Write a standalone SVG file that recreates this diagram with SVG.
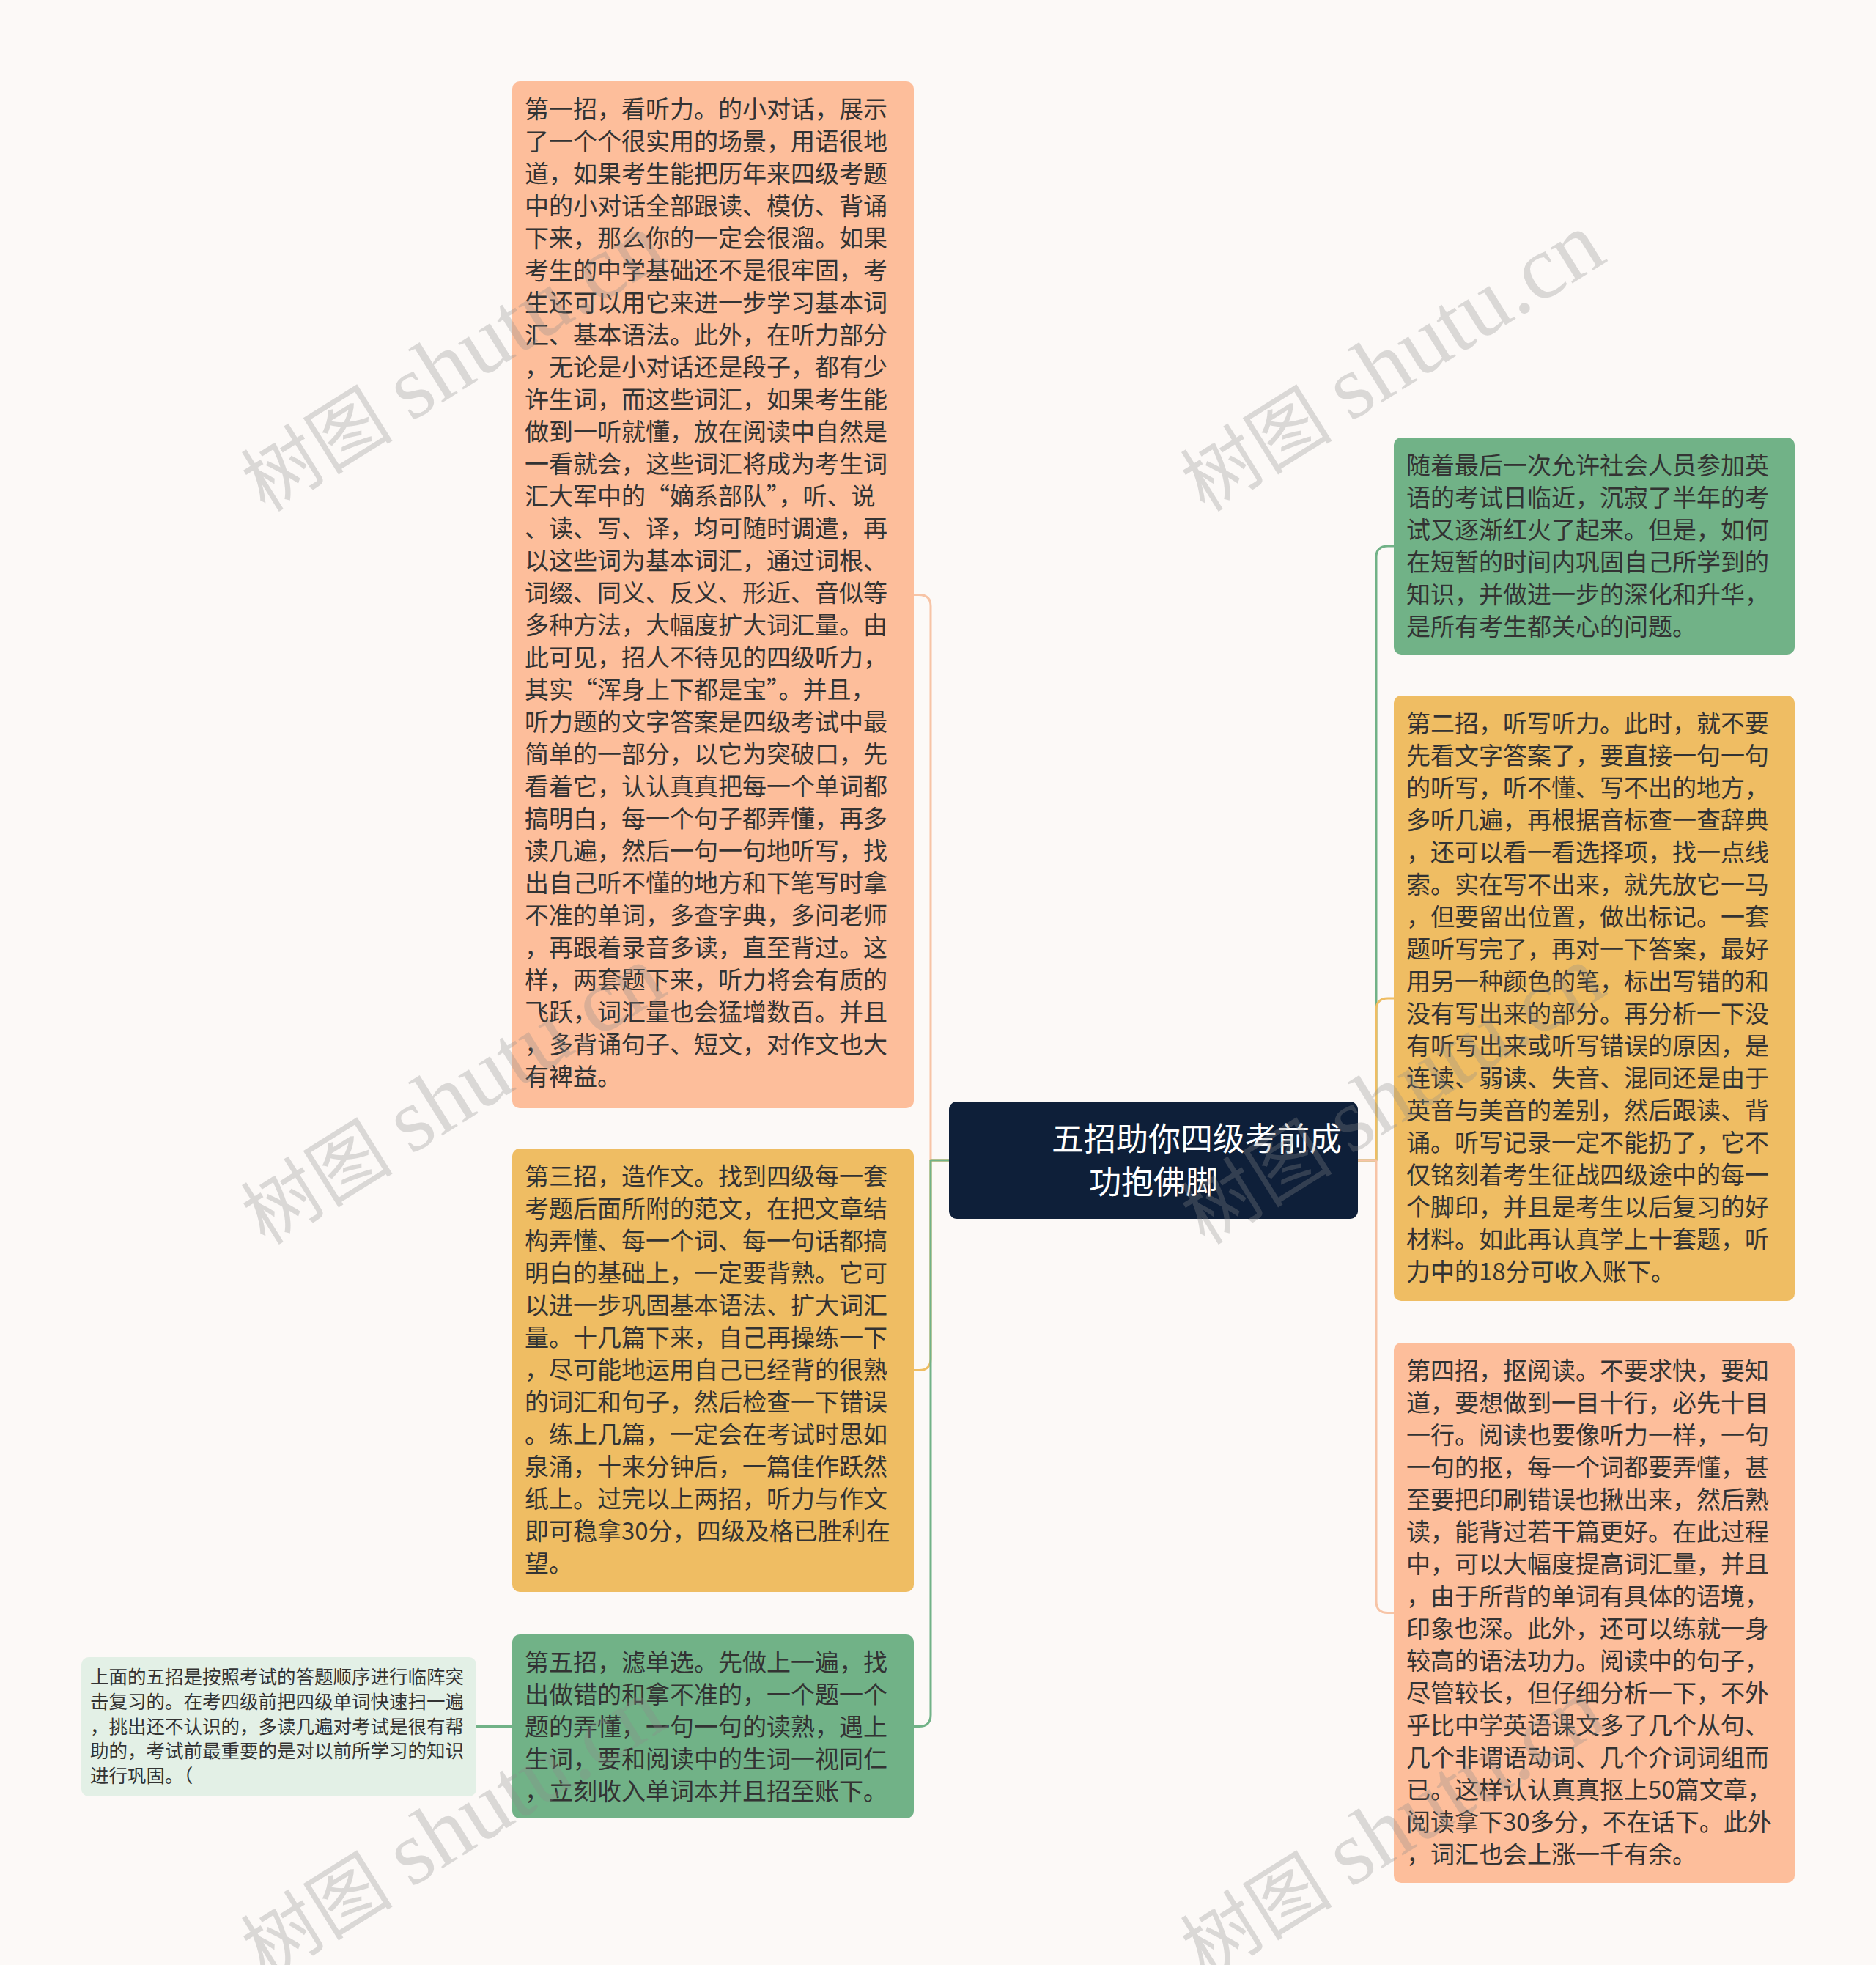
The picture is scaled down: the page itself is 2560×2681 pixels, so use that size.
<svg xmlns="http://www.w3.org/2000/svg" width="2560" height="2681" viewBox="0 0 2560 2681">
<style>
.t{font-family:"Noto Sans CJK SC","Noto Sans",sans-serif;font-size:33px;fill:#333333}
.s{font-family:"Noto Sans CJK SC","Noto Sans",sans-serif;font-size:25.5px;fill:#333333}
.c{font-family:"Noto Sans CJK SC","Noto Sans",sans-serif;font-size:44px;fill:#ffffff}
.ln{fill:none;stroke-width:3;stroke-linecap:round;stroke-linejoin:round}
.wm{font-family:"Liberation Serif","Noto Sans CJK SC",serif;font-size:104px;fill:#8a8a8a;fill-opacity:0.3}
.wl{font-size:124px}
.peach{fill:#FDBE9B}.yellow{fill:#EFBD63}.green{fill:#71B287}
</style>
<rect width="2560" height="2681" fill="#FCF9F7"/>
<g id="connectors">
<path class="ln" stroke="#F7C4A6" d="M1295 1583H1270V827Q1270 811.5 1254 811.5H1247"/>
<path class="ln" stroke="#EFBD63" d="M1295 1583H1270V1854Q1270 1869.5 1254 1869.5H1247"/>
<path class="ln" stroke="#71B287" d="M1295 1583H1270V2340Q1270 2355.5 1254 2355.5H1247"/>
<path class="ln" stroke="#71B287" d="M699 2355.5H650"/>
<path class="ln" stroke="#71B287" d="M1853 1583H1878V760Q1878 745 1894 745H1902"/>
<path class="ln" stroke="#EFBD63" d="M1853 1583H1878V1378Q1878 1362 1894 1362H1902"/>
<path class="ln" stroke="#F7C4A6" d="M1853 1583H1878V2185Q1878 2200.5 1894 2200.5H1902"/>
</g>
<g id="center">
<rect x="1295" y="1503" width="558" height="160" rx="11" fill="#0E1F39"/>
<text class="c" x="1435" y="1570">五招助你四级考前成</text>
<text class="c" x="1486" y="1629">功抱佛脚</text>
</g>
<g id="node1">
<rect class="peach" x="699" y="111" width="548" height="1401" rx="10"/>
<text class="t"><tspan x="716" y="161">第一招，看听力。的小对话，展示</tspan><tspan x="716" dy="44">了一个个很实用的场景，用语很地</tspan><tspan x="716" dy="44">道，如果考生能把历年来四级考题</tspan><tspan x="716" dy="44">中的小对话全部跟读、模仿、背诵</tspan><tspan x="716" dy="44">下来，那么你的一定会很溜。如果</tspan><tspan x="716" dy="44">考生的中学基础还不是很牢固，考</tspan><tspan x="716" dy="44">生还可以用它来进一步学习基本词</tspan><tspan x="716" dy="44">汇、基本语法。此外，在听力部分</tspan><tspan x="716" dy="44">，无论是小对话还是段子，都有少</tspan><tspan x="716" dy="44">许生词，而这些词汇，如果考生能</tspan><tspan x="716" dy="44">做到一听就懂，放在阅读中自然是</tspan><tspan x="716" dy="44">一看就会，这些词汇将成为考生词</tspan><tspan x="716" dy="44">汇大军中的“嫡系部队”，听、说</tspan><tspan x="716" dy="44">、读、写、译，均可随时调遣，再</tspan><tspan x="716" dy="44">以这些词为基本词汇，通过词根、</tspan><tspan x="716" dy="44">词缀、同义、反义、形近、音似等</tspan><tspan x="716" dy="44">多种方法，大幅度扩大词汇量。由</tspan><tspan x="716" dy="44">此可见，招人不待见的四级听力，</tspan><tspan x="716" dy="44">其实“浑身上下都是宝”。并且，</tspan><tspan x="716" dy="44">听力题的文字答案是四级考试中最</tspan><tspan x="716" dy="44">简单的一部分，以它为突破口，先</tspan><tspan x="716" dy="44">看着它，认认真真把每一个单词都</tspan><tspan x="716" dy="44">搞明白，每一个句子都弄懂，再多</tspan><tspan x="716" dy="44">读几遍，然后一句一句地听写，找</tspan><tspan x="716" dy="44">出自己听不懂的地方和下笔写时拿</tspan><tspan x="716" dy="44">不准的单词，多查字典，多问老师</tspan><tspan x="716" dy="44">，再跟着录音多读，直至背过。这</tspan><tspan x="716" dy="44">样，两套题下来，听力将会有质的</tspan><tspan x="716" dy="44">飞跃，词汇量也会猛增数百。并且</tspan><tspan x="716" dy="44">，多背诵句子、短文，对作文也大</tspan><tspan x="716" dy="44">有裨益。</tspan></text>
</g>
<g id="node3">
<rect class="yellow" x="699" y="1567" width="548" height="605" rx="10"/>
<text class="t"><tspan x="716" y="1617">第三招，造作文。找到四级每一套</tspan><tspan x="716" dy="44">考题后面所附的范文，在把文章结</tspan><tspan x="716" dy="44">构弄懂、每一个词、每一句话都搞</tspan><tspan x="716" dy="44">明白的基础上，一定要背熟。它可</tspan><tspan x="716" dy="44">以进一步巩固基本语法、扩大词汇</tspan><tspan x="716" dy="44">量。十几篇下来，自己再操练一下</tspan><tspan x="716" dy="44">，尽可能地运用自己已经背的很熟</tspan><tspan x="716" dy="44">的词汇和句子，然后检查一下错误</tspan><tspan x="716" dy="44">。练上几篇，一定会在考试时思如</tspan><tspan x="716" dy="44">泉涌，十来分钟后，一篇佳作跃然</tspan><tspan x="716" dy="44">纸上。过完以上两招，听力与作文</tspan><tspan x="716" dy="44">即可稳拿30分，四级及格已胜利在</tspan><tspan x="716" dy="44">望。</tspan></text>
</g>
<g id="node5">
<rect class="green" x="699" y="2230" width="548" height="251" rx="10"/>
<text class="t"><tspan x="716" y="2280">第五招，滤单选。先做上一遍，找</tspan><tspan x="716" dy="44">出做错的和拿不准的，一个题一个</tspan><tspan x="716" dy="44">题的弄懂，一句一句的读熟，遇上</tspan><tspan x="716" dy="44">生词，要和阅读中的生词一视同仁</tspan><tspan x="716" dy="44">，立刻收入单词本并且招至账下。</tspan></text>
</g>
<g id="leaf">
<rect x="111" y="2261" width="539" height="190" rx="10" fill="#E3F0E6"/>
<text class="s"><tspan x="123" y="2297">上面的五招是按照考试的答题顺序进行临阵突</tspan><tspan x="123" dy="33.8">击复习的。在考四级前把四级单词快速扫一遍</tspan><tspan x="123" dy="33.8">，挑出还不认识的，多读几遍对考试是很有帮</tspan><tspan x="123" dy="33.8">助的，考试前最重要的是对以前所学习的知识</tspan><tspan x="123" dy="33.8">进行巩固。（</tspan></text>
</g>
<g id="intro">
<rect class="green" x="1902" y="597" width="547" height="296" rx="10"/>
<text class="t"><tspan x="1919" y="647">随着最后一次允许社会人员参加英</tspan><tspan x="1919" dy="44">语的考试日临近，沉寂了半年的考</tspan><tspan x="1919" dy="44">试又逐渐红火了起来。但是，如何</tspan><tspan x="1919" dy="44">在短暂的时间内巩固自己所学到的</tspan><tspan x="1919" dy="44">知识，并做进一步的深化和升华，</tspan><tspan x="1919" dy="44">是所有考生都关心的问题。</tspan></text>
</g>
<g id="node2">
<rect class="yellow" x="1902" y="949" width="547" height="826" rx="10"/>
<text class="t"><tspan x="1919" y="999">第二招，听写听力。此时，就不要</tspan><tspan x="1919" dy="44">先看文字答案了，要直接一句一句</tspan><tspan x="1919" dy="44">的听写，听不懂、写不出的地方，</tspan><tspan x="1919" dy="44">多听几遍，再根据音标查一查辞典</tspan><tspan x="1919" dy="44">，还可以看一看选择项，找一点线</tspan><tspan x="1919" dy="44">索。实在写不出来，就先放它一马</tspan><tspan x="1919" dy="44">，但要留出位置，做出标记。一套</tspan><tspan x="1919" dy="44">题听写完了，再对一下答案，最好</tspan><tspan x="1919" dy="44">用另一种颜色的笔，标出写错的和</tspan><tspan x="1919" dy="44">没有写出来的部分。再分析一下没</tspan><tspan x="1919" dy="44">有听写出来或听写错误的原因，是</tspan><tspan x="1919" dy="44">连读、弱读、失音、混同还是由于</tspan><tspan x="1919" dy="44">英音与美音的差别，然后跟读、背</tspan><tspan x="1919" dy="44">诵。听写记录一定不能扔了，它不</tspan><tspan x="1919" dy="44">仅铭刻着考生征战四级途中的每一</tspan><tspan x="1919" dy="44">个脚印，并且是考生以后复习的好</tspan><tspan x="1919" dy="44">材料。如此再认真学上十套题，听</tspan><tspan x="1919" dy="44">力中的18分可收入账下。</tspan></text>
</g>
<g id="node4">
<rect class="peach" x="1902" y="1832" width="547" height="737" rx="10"/>
<text class="t"><tspan x="1919" y="1882">第四招，抠阅读。不要求快，要知</tspan><tspan x="1919" dy="44">道，要想做到一目十行，必先十目</tspan><tspan x="1919" dy="44">一行。阅读也要像听力一样，一句</tspan><tspan x="1919" dy="44">一句的抠，每一个词都要弄懂，甚</tspan><tspan x="1919" dy="44">至要把印刷错误也揪出来，然后熟</tspan><tspan x="1919" dy="44">读，能背过若干篇更好。在此过程</tspan><tspan x="1919" dy="44">中，可以大幅度提高词汇量，并且</tspan><tspan x="1919" dy="44">，由于所背的单词有具体的语境，</tspan><tspan x="1919" dy="44">印象也深。此外，还可以练就一身</tspan><tspan x="1919" dy="44">较高的语法功力。阅读中的句子，</tspan><tspan x="1919" dy="44">尽管较长，但仔细分析一下，不外</tspan><tspan x="1919" dy="44">乎比中学英语课文多了几个从句、</tspan><tspan x="1919" dy="44">几个非谓语动词、几个介词词组而</tspan><tspan x="1919" dy="44">已。这样认认真真抠上50篇文章，</tspan><tspan x="1919" dy="44">阅读拿下30多分，不在话下。此外</tspan><tspan x="1919" dy="44">，词汇也会上涨一千有余。</tspan></text>
</g>
<g id="watermarks">
<text class="wm" transform="translate(362 700) rotate(-32)">树图 <tspan class="wl">shutu.cn</tspan></text>
<text class="wm" transform="translate(1644 700) rotate(-32)">树图 <tspan class="wl">shutu.cn</tspan></text>
<text class="wm" transform="translate(362 1700) rotate(-32)">树图 <tspan class="wl">shutu.cn</tspan></text>
<text class="wm" transform="translate(1644 1700) rotate(-32)">树图 <tspan class="wl">shutu.cn</tspan></text>
<text class="wm" transform="translate(362 2700) rotate(-32)">树图 <tspan class="wl">shutu.cn</tspan></text>
<text class="wm" transform="translate(1644 2700) rotate(-32)">树图 <tspan class="wl">shutu.cn</tspan></text>
</g>
</svg>
